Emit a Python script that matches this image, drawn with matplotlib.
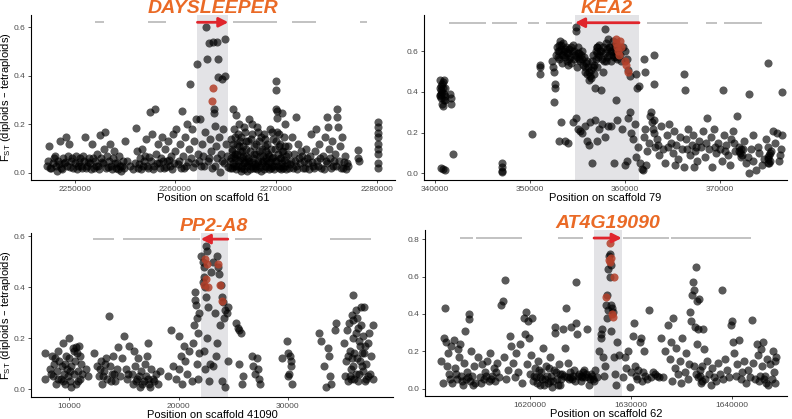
import matplotlib
matplotlib.use("Agg")
import matplotlib.pyplot as plt
import matplotlib.transforms as mtransforms
import numpy as np

plt.rcParams["font.family"] = ["Liberation Sans", "DejaVu Sans"]

# ---- data (positions in kb, Fst values) ----
s61_points = [
    (2247.2, .03), (2247.3, .05), (2247.4, .11), (2247.6, .02), (2247.8, .04), (2248.0, .07),
    (2248.1, .03), (2248.3, .05), (2248.5, .13), (2248.6, .02), (2248.8, .06), (2248.9, .04),
    (2249.1, .15), (2249.2, .03), (2249.3, .07), (2249.4, .12), (2249.6, .05), (2249.8, .02),
    (2250.0, .04), (2250.1, .07), (2250.3, .03), (2250.5, .06), (2250.7, .02), (2250.9, .05),
    (2251.0, .15), (2251.2, .03), (2251.4, .06), (2251.5, .04), (2251.7, .12), (2251.9, .02),
    (2252.0, .05), (2252.2, .08), (2252.3, .03), (2252.5, .155), (2252.6, .06), (2252.8, .04),
    (2252.9, .10), (2253.0, .17), (2253.1, .02), (2253.2, .07), (2253.4, .05), (2253.5, .12),
    (2253.6, .03), (2253.8, .06), (2253.9, .09), (2254.1, .02), (2254.2, .04), (2254.4, .07),
    (2254.5, .03), (2254.6, .01), (2254.8, .05), (2255.0, .13),
    (2256.0, .04), (2256.1, .185), (2256.2, .09), (2256.3, .02), (2256.5, .06), (2256.7, .10),
    (2256.8, .03), (2257.0, .07), (2257.1, .14), (2257.3, .02), (2257.5, .25), (2257.6, .05),
    (2257.7, .16), (2257.9, .03), (2258.0, .265), (2258.1, .08), (2258.3, .12), (2258.4, .04),
    (2258.6, .06), (2258.7, .15), (2258.9, .02), (2259.0, .10), (2259.2, .05), (2259.3, .13),
    (2259.5, .03), (2259.6, .07), (2259.8, .16), (2259.9, .04),
    (2260.0, .09), (2260.1, .18), (2260.3, .05), (2260.4, .12), (2260.5, .02), (2260.6, .255),
    (2260.7, .07), (2260.9, .15), (2261.0, .03), (2261.1, .20), (2261.3, .10), (2261.4, .365),
    (2261.5, .06), (2261.6, .18), (2261.8, .13), (2261.9, .04), (2262.0, .22), (2262.1, .45),
    (2262.2, .08),
    (2262.4, .22), (2262.5, .03), (2262.6, .12), (2262.7, .07), (2262.9, .17), (2263.0, .60),
    (2263.1, .47), (2263.2, .05), (2263.3, .535), (2263.4, .14), (2263.5, .09), (2263.6, .02),
    (2263.7, .537), (2263.8, .265), (2263.8, .245), (2263.9, .195), (2264.0, .11), (2264.1, .54),
    (2264.1, .06), (2264.2, .47), (2264.2, .395), (2264.3, .15), (2264.4, .003), (2264.5, .08),
    (2264.6, .385), (2264.7, .18), (2264.8, .04), (2264.9, .55), (2264.9, .40), (2265.0, .12),
    (2265.1, .07),
    (2265.4, .02), (2265.5, .06), (2265.5, .14), (2265.6, .10), (2265.7, .265), (2265.7, .04),
    (2265.8, .18), (2265.9, .08), (2266.0, .24), (2266.0, .03), (2266.1, .12), (2266.2, .05),
    (2266.3, .20), (2266.4, .09), (2266.5, .02), (2266.5, .15), (2266.6, .06), (2266.7, .11),
    (2266.8, .04), (2266.9, .17), (2267.0, .07), (2267.1, .01), (2267.2, .13), (2267.3, .22),
    (2267.3, .05), (2267.4, .09), (2267.5, .03), (2267.6, .16), (2267.7, .06), (2267.8, .11),
    (2267.9, .02), (2268.0, .08), (2268.1, .19), (2268.2, .04), (2268.3, .13), (2268.4, .07),
    (2268.5, .01), (2268.6, .10), (2268.7, .05), (2268.8, .16), (2268.9, .03), (2269.0, .09),
    (2269.1, .12), (2269.2, .04), (2269.3, .07), (2269.4, .18), (2269.5, .02), (2269.6, .06),
    (2269.7, .14), (2269.8, .03), (2269.9, .10), (2270.0, .38), (2270.0, .34), (2270.0, .265),
    (2270.05, .255), (2270.1, .225), (2270.0, .05), (2270.1, .17), (2270.2, .08), (2270.3, .02),
    (2270.4, .12), (2270.5, .06), (2270.6, .245), (2270.6, .04), (2270.7, .09), (2270.8, .15),
    (2270.9, .03), (2271.0, .07),
    (2271.2, .11), (2271.3, .02), (2271.5, .05), (2271.6, .15), (2271.8, .08), (2272.0, .23),
    (2272.0, .03), (2272.2, .12), (2272.3, .06), (2272.5, .09), (2272.7, .02), (2272.8, .05),
    (2273.0, .10), (2273.2, .04), (2273.4, .07), (2273.5, .16), (2273.7, .03), (2273.9, .09),
    (2274.0, .18), (2274.1, .05), (2274.3, .12), (2274.5, .02), (2274.6, .07), (2274.8, .15),
    (2275.0, .23), (2275.0, .04), (2275.1, .19), (2275.2, .10), (2275.3, .06), (2275.5, .13),
    (2275.6, .03), (2275.8, .08), (2276.0, .265), (2276.0, .23), (2276.1, .19), (2276.2, .05),
    (2276.3, .11), (2276.5, .15), (2276.6, .02), (2276.8, .07), (2277.0, .04),
    (2278.1, .095), (2278.1, .06), (2278.2, .05),
    (2280.1, .21), (2280.1, .19), (2280.1, .165), (2280.1, .15), (2280.1, .10), (2280.1, .08),
    (2280.1, .04), (2280.1, .02), (2280.1, .12),
    # low band
    (2247.5, .02), (2247.9, .06), (2248.2, .01), (2248.4, .035), (2248.7, .015), (2249.0, .045),
    (2249.5, .025), (2249.7, .06), (2250.2, .015), (2250.4, .045), (2250.6, .03), (2250.8, .07),
    (2251.1, .02), (2251.3, .045), (2251.6, .015), (2251.8, .06), (2252.1, .03), (2252.4, .015),
    (2252.7, .045), (2253.3, .025), (2253.7, .015), (2254.0, .04), (2254.3, .015), (2254.7, .03),
    (2254.9, .02), (2255.2, .05), (2255.5, .03), (2255.8, .015), (2256.4, .035), (2256.6, .015),
    (2256.9, .05), (2257.2, .03), (2257.4, .065), (2257.8, .015), (2258.2, .04), (2258.5, .02),
    (2258.8, .05), (2259.1, .025), (2259.4, .055), (2259.7, .015), (2260.2, .035), (2260.8, .02),
    (2261.2, .045), (2261.7, .025), (2262.3, .05), (2262.8, .03), (2263.3, .06), (2263.9, .03),
    (2264.6, .05), (2265.2, .025),
    (2265.45, .05), (2265.6, .02), (2265.65, .09), (2265.75, .12), (2265.85, .03), (2265.95, .06),
    (2266.05, .015), (2266.15, .08), (2266.25, .03), (2266.35, .11), (2266.45, .055), (2266.55, .01),
    (2266.65, .03), (2266.75, .07), (2266.85, .015), (2266.95, .045), (2267.05, .10), (2267.15, .03),
    (2267.25, .06), (2267.35, .015), (2267.45, .14), (2267.55, .045), (2267.65, .02), (2267.75, .08),
    (2267.85, .035), (2267.95, .12), (2268.05, .015), (2268.15, .05), (2268.25, .09), (2268.35, .025),
    (2268.45, .15), (2268.55, .04), (2268.65, .07), (2268.75, .015), (2268.85, .11), (2268.95, .05),
    (2269.05, .025), (2269.15, .08), (2269.25, .015), (2269.35, .045), (2269.45, .10), (2269.55, .03),
    (2269.65, .065), (2269.75, .015), (2269.85, .05), (2269.95, .13), (2270.15, .03), (2270.25, .11),
    (2270.35, .06), (2270.45, .015), (2270.55, .09), (2270.65, .02), (2270.75, .055), (2270.85, .11),
    (2270.95, .015), (2271.05, .04), (2271.15, .08), (2266.2, .16), (2266.8, .19), (2267.6, .20),
    (2268.2, .17), (2268.9, .14), (2269.6, .17), (2267.0, .13), (2265.9, .15), (2266.4, .13),
    (2270.3, .16), (2270.9, .20), (2269.0, .06), (2268.0, .03), (2267.2, .04), (2266.6, .09),
    (2265.8, .07), (2270.5, .03),
    (2271.4, .035), (2271.7, .02), (2271.9, .05), (2272.1, .015), (2272.4, .04), (2272.6, .07),
    (2272.9, .02), (2273.1, .06), (2273.3, .015), (2273.6, .045), (2273.8, .02), (2274.2, .03),
    (2274.4, .06), (2274.7, .015), (2274.9, .05), (2275.4, .02), (2275.7, .05), (2275.9, .03),
    (2276.4, .02), (2276.7, .045), (2276.9, .015), (2277.1, .03),
]
s61_red = [(2263.7, .35), (2263.6, .298)]

s79_points = [
    (340.5, .46), (340.6, .43), (340.7, .40), (340.5, .38), (340.6, .37), (340.8, .45),
    (340.9, .46), (340.7, .34), (340.8, .33), (341.0, .36), (340.6, .41), (340.9, .39),
    (341.0, .42), (340.55, .385), (341.6, .39), (341.7, .37), (341.7, .34), (341.9, .095),
    (340.6, .025), (340.8, .02), (341.0, .018),
    (340.6, .39), (340.7, .44), (340.8, .42), (340.9, .36), (341.0, .38), (340.5, .42),
    (347.1, .05), (347.1, .03), (347.1, .01), (347.1, .005),
    (350.2, .195), (351.0, .53), (351.0, .52), (351.0, .49),
    (352.3, .55), (352.4, .52), (352.5, .50), (352.6, .44), (352.6, .42), (352.5, .35),
    (352.7, .58), (352.8, .62), (352.9, .60), (353.0, .63), (353.1, .56), (353.2, .65),
    (353.3, .61), (353.4, .58), (353.5, .64), (353.6, .60), (353.7, .57), (353.8, .62),
    (353.9, .55), (354.0, .59), (354.1, .61), (354.2, .57), (354.3, .54), (354.4, .60),
    (354.5, .63), (354.6, .56), (354.7, .58), (354.8, .72), (354.8, .70), (354.9, .52),
    (355.0, .59), (355.1, .62), (355.2, .56), (355.3, .55), (355.4, .58), (355.5, .60),
    (355.6, .53), (355.7, .57), (355.8, .50), (355.9, .54), (356.0, .49), (356.1, .52),
    (356.2, .46), (356.3, .48), (356.4, .51), (356.5, .55), (356.6, .58), (356.7, .53),
    (356.8, .42), (356.9, .60), (357.0, .62), (357.1, .59), (357.2, .57), (357.3, .63),
    (357.4, .60), (357.5, .41), (357.6, .56), (357.7, .50), (357.8, .55), (357.9, .71),
    (358.0, .64), (358.1, .61), (358.2, .66), (358.3, .58), (358.4, .62), (358.5, .55),
    (358.6, .60), (358.7, .65), (358.8, .57), (358.9, .63), (359.0, .59), (359.1, .36),
    (359.2, .56), (359.3, .61), (359.5, .58), (359.6, .55), (359.8, .62), (360.0, .60),
    (360.2, .56), (360.3, .51), (360.5, .48), (361.2, .49), (361.3, .42), (361.5, .43),
    (362.0, .56), (362.1, .50), (363.1, .58), (363.1, .44), (366.2, .49), (366.3, .41),
    (370.3, .41), (373.1, .39), (375.0, .54), (376.5, .40),
    (352.9, .57), (353.1, .60), (353.3, .63), (353.5, .58), (353.7, .61), (353.9, .59),
    (354.1, .56), (354.3, .62), (354.6, .60), (354.9, .57), (355.2, .59), (355.5, .56),
    (355.8, .52), (356.0, .55), (356.2, .50), (356.4, .47), (356.6, .52), (356.7, .49),
    (356.9, .56), (357.1, .62), (357.3, .58), (357.5, .60), (357.7, .62), (357.9, .59),
    (358.1, .57), (358.3, .62), (358.5, .60), (358.7, .58), (358.9, .61), (359.1, .57),
    (353.4, .54), (354.0, .53), (357.0, .52), (358.0, .55),
    (353.0, .16), (353.3, .25), (353.7, .16), (354.0, .15), (354.5, .25), (354.8, .27),
    (355.0, .22), (355.3, .21), (355.5, .20), (355.8, .23), (356.0, .16), (356.2, .14),
    (356.3, .25), (356.5, .05), (356.8, .26), (357.0, .16), (357.3, .22), (357.6, .24),
    (357.9, .18), (358.2, .23), (358.5, .23), (358.8, .05), (359.2, .26), (359.7, .22),
    (360.0, .04), (360.2, .06), (360.3, .27), (360.5, .30), (360.6, .20), (360.8, .17),
    (361.0, .24), (361.2, .08), (361.4, .13), (361.6, .05), (361.8, .02), (361.9, .015),
    (362.0, .18), (362.1, .22), (362.3, .11), (362.5, .15), (362.6, .28), (362.7, .30),
    (362.8, .25), (363.0, .20), (363.2, .13), (363.4, .17), (363.6, .09), (363.8, .23),
    (364.0, .12), (364.2, .05), (364.4, .19), (364.6, .24), (364.8, .15), (365.0, .10),
    (365.2, .21), (365.4, .14), (365.6, .07), (365.8, .18), (366.0, .12), (366.2, .03),
    (366.4, .17), (366.6, .22), (366.8, .09), (367.0, .14), (367.2, .19), (367.4, .11),
    (367.6, .06), (367.8, .16), (368.0, .13), (368.2, .21), (368.4, .08), (368.6, .27),
    (368.8, .12), (369.0, .18), (369.2, .03), (369.4, .22), (369.6, .10), (369.8, .15),
    (370.0, .12), (370.2, .06), (370.4, .19), (370.6, .14), (370.8, .09), (371.0, .04),
    (371.2, .17), (371.4, .21), (371.6, .11), (371.8, .28), (372.0, .13), (372.1, .10),
    (372.2, .12), (372.3, .09), (372.5, .16), (372.7, .05), (372.9, .08), (373.1, .002),
    (373.3, .12), (373.5, .19), (373.8, .015), (374.1, .10), (374.4, .04), (374.6, .07),
    (374.8, .17), (375.0, .08), (375.0, .05), (375.1, .13), (375.2, .09), (375.3, .06),
    (375.4, .11), (375.6, .21), (375.8, .15), (376.0, .20), (376.2, .06), (376.4, .12),
    (376.5, .19),
    (372.0, .11), (372.2, .08), (372.4, .12), (375.2, .05), (375.3, .10), (375.1, .07),
    (363.0, .26), (362.9, .22), (363.5, .14), (364.5, .13), (366.5, .12), (367.5, .13),
    (368.5, .15), (369.5, .13), (370.5, .11), (371.5, .15), (373.5, .06), (374.0, .13),
    (376.3, .09), (362.2, .04), (365.3, .04), (367.3, .03),
]
s79_red = [(359.0, .66), (359.1, .64), (359.2, .62), (359.3, .60), (359.4, .58), (359.5, .65),
           (360.0, .55), (360.1, .53), (360.3, .50), (359.6, .62)]

s41090_points = [
    (7.8, .14), (7.8, .04), (8.2, .08), (8.4, .13), (8.5, .05), (8.6, .10), (8.8, .02),
    (8.9, .07), (9.0, .15), (9.1, .11), (9.2, .04), (9.3, .09), (9.4, .18), (9.5, .06),
    (9.6, .02), (9.7, .13), (9.8, .08), (9.9, .05), (10.0, .20), (10.0, .12), (10.1, .03),
    (10.2, .09), (10.3, .16), (10.4, .06), (10.5, .11), (10.6, .02), (10.7, .14), (10.8, .07),
    (10.9, .17), (11.0, .04), (11.1, .10), (11.2, .06), (10.6, .165), (10.2, .01), (11.5, .08),
    (11.7, .05),
    (8.3, .06), (8.7, .12), (9.0, .04), (9.4, .03), (9.6, .10), (10.1, .07), (10.4, .15),
    (10.8, .03), (11.0, .13),
    (12.3, .14), (12.5, .09), (12.7, .05), (12.9, .11), (13.0, .02), (13.2, .07), (13.4, .12),
    (13.5, .04), (13.6, .285), (13.7, .09), (13.9, .06), (14.0, .13), (14.2, .03), (14.4, .08),
    (14.5, .165), (14.6, .05), (14.8, .12),
    (12.8, .08), (13.1, .05), (13.3, .10), (13.8, .03), (14.1, .06),
    (15.0, .21), (15.2, .08), (15.3, .04), (15.5, .17), (15.7, .06), (15.8, .02), (16.0, .09),
    (16.2, .04), (16.3, .12), (16.5, .01), (16.6, .07), (16.8, .03), (17.0, .05), (17.1, .13),
    (17.2, .18), (17.3, .02), (17.5, .08), (17.7, .04), (17.9, .06), (18.1, .02), (18.3, .07),
    (16.9, .10), (15.9, .15),
    (15.4, .06), (16.1, .03), (16.4, .05), (16.7, .02), (17.2, .04), (17.4, .01), (17.8, .03),
    (19.0, .05), (19.3, .23), (19.5, .09), (19.8, .04), (20.0, .08), (20.0, .21), (20.2, .13),
    (20.3, .02), (20.5, .17), (20.6, .11), (20.8, .06), (21.0, .15), (21.2, .03), (21.3, .18),
    (21.4, .25), (21.5, .38), (21.5, .35), (21.6, .33), (21.7, .28), (21.7, .10), (21.8, .22),
    (21.8, .04), (21.9, .14), (21.9, .30),
    (22.1, .52), (22.2, .50), (22.3, .48), (22.2, .42), (22.4, .40), (22.3, .44), (22.5, .56),
    (22.6, .54), (22.5, .36), (22.7, .32), (22.6, .20), (22.3, .15), (22.4, .08), (22.8, .03),
    (23.0, .46), (23.2, .50), (23.3, .30), (23.5, .52), (23.6, .48), (23.7, .45), (23.8, .25),
    (23.9, .41), (24.0, .36), (24.1, .34), (24.2, .28), (23.5, .18), (23.2, .09), (24.0, .03),
    (24.3, .31), (24.4, .30), (24.5, .11), (24.3, .01), (23.4, .13), (22.9, .10), (24.5, .32),
    (25.3, .26), (25.4, .24), (25.5, .23), (25.7, .22), (25.5, .10), (25.8, .02), (25.9, .05),
    (26.7, .13), (26.8, .09), (27.2, .12), (27.3, .08), (27.4, .04), (27.5, .02), (27.0, .06),
    (29.5, .12), (29.9, .19), (30.0, .14), (30.0, .05), (30.1, .06), (30.2, .13), (30.3, .09),
    (30.4, .02), (30.3, .11),
    (32.9, .22), (33.0, .19), (33.3, .09), (33.5, .01), (33.7, .16), (33.8, .13), (33.9, .05),
    (34.0, .02), (34.4, .26), (34.3, .23),
    (35.1, .18), (35.2, .05), (35.3, .11), (35.4, .23), (35.5, .03), (35.6, .26), (35.7, .15),
    (35.8, .08), (35.9, .29), (36.0, .37), (36.0, .20), (36.1, .04), (36.2, .31), (36.3, .12),
    (36.4, .24), (36.5, .06), (36.6, .17), (36.7, .32), (36.8, .09), (36.9, .21), (37.0, .14),
    (37.1, .03), (37.2, .10), (37.3, .18), (37.4, .22), (37.5, .06), (37.6, .13), (37.8, .25),
    (37.8, .04), (37.0, .32), (36.3, .28), (35.8, .04), (36.1, .14), (36.5, .19), (36.9, .07),
    (37.3, .05),
    (35.5, .13), (35.7, .05), (36.0, .27), (36.2, .06), (36.4, .03), (36.6, .11), (36.8, .14),
    (37.1, .17), (37.2, .04), (36.0, .09), (35.9, .12), (36.7, .25), (36.2, .22),
]
s41090_red = [(22.4, .51), (22.6, .49), (22.5, .43), (22.3, .41), (23.6, .49), (23.8, .41),
              (24.0, .345), (22.7, .40)]

s62_points = [
    (1611.2, .15), (1611.4, .03), (1611.5, .27), (1611.6, .43), (1611.7, .25), (1611.8, .12),
    (1611.9, .19), (1612.0, .08), (1612.2, .23), (1612.3, .03), (1612.5, .26), (1612.6, .11),
    (1612.8, .05), (1612.9, .21), (1613.0, .17), (1613.1, .24), (1613.2, .07), (1613.4, .02),
    (1613.5, .14), (1613.6, .31), (1613.7, .05), (1613.8, .09), (1614.0, .40), (1614.0, .375),
    (1614.1, .04), (1614.2, .20), (1614.3, .07), (1614.5, .12), (1614.6, .03), (1614.8, .17),
    (1615.0, .06), (1615.2, .13), (1615.4, .05), (1615.5, .09), (1615.7, .15), (1615.9, .04),
    (1616.0, .19), (1616.2, .07), (1616.4, .11), (1616.5, .04), (1616.7, .14), (1616.9, .06),
    (1617.1, .45), (1617.3, .47), (1617.5, .58), (1617.4, .17), (1617.6, .05), (1617.8, .10),
    (1618.0, .28), (1618.1, .23), (1618.3, .14), (1618.5, .06), (1618.6, .19), (1618.8, .09),
    (1619.0, .24), (1619.2, .03), (1619.4, .38), (1619.5, .29), (1619.6, .41), (1619.7, .13),
    (1619.8, .36), (1619.9, .27), (1620.0, .08), (1620.1, .18), (1620.2, .38), (1620.3, .04),
    (1620.5, .11), (1620.6, .06), (1620.8, .15), (1621.0, .02), (1621.1, .09), (1621.3, .22),
    (1621.5, .05), (1621.6, .12), (1621.8, .03), (1622.0, .17), (1622.1, .07), (1622.2, .01),
    (1622.4, .10), (1622.5, .33), (1622.5, .30), (1622.7, .05), (1622.9, .13), (1623.0, .02),
    (1623.2, .08), (1623.3, .32), (1623.5, .22), (1623.6, .43), (1623.7, .06), (1623.8, .14),
    (1624.0, .09), (1624.1, .33), (1624.2, .05), (1624.4, .10), (1624.6, .57), (1624.6, .35),
    (1624.7, .29), (1624.8, .07), (1625.0, .04), (1625.2, .09), (1625.4, .06), (1625.6, .32),
    (1625.8, .02), (1626.0, .08), (1626.2, .05), (1626.4, .10), (1626.6, .06), (1626.8, .20),
    (1620.4, .07), (1620.7, .03), (1620.9, .10), (1621.2, .05), (1621.4, .02), (1621.7, .07),
    (1621.9, .11), (1622.3, .04), (1622.6, .09), (1622.8, .02), (1623.1, .05), (1623.4, .07),
    (1623.9, .05), (1624.3, .07), (1624.5, .04), (1624.9, .08), (1625.1, .06), (1625.3, .10),
    (1625.5, .08), (1625.7, .06), (1625.9, .05), (1626.1, .07), (1626.3, .04), (1621.0, .06),
    (1622.0, .04), (1623.0, .08), (1624.0, .06), (1625.0, .07), (1612.1, .05), (1612.7, .08),
    (1613.3, .04), (1613.9, .06), (1614.4, .02), (1615.1, .03), (1615.6, .07), (1616.1, .05),
    (1616.6, .09),
    (1627.0, .27), (1627.0, .29), (1627.1, .32), (1627.2, .17), (1627.3, .07), (1627.5, .45),
    (1627.6, .50), (1627.6, .38), (1627.7, .42), (1627.7, .64), (1627.8, .71), (1627.9, .72),
    (1627.9, .60), (1628.0, .66), (1628.0, .31), (1628.1, .43), (1628.2, .41), (1628.3, .17),
    (1628.4, .08), (1628.6, .25), (1628.8, .18), (1628.5, .02), (1627.4, .12), (1628.0, .45),
    (1629.2, .06), (1629.4, .17), (1629.5, .11), (1629.7, .20), (1629.9, .01), (1630.0, .09),
    (1630.2, .28), (1630.3, .35), (1630.4, .12), (1630.6, .05), (1630.7, .10), (1630.9, .25),
    (1631.0, .27), (1631.1, .04), (1631.3, .20), (1631.4, .07), (1631.6, .05), (1631.8, .42),
    (1632.0, .06), (1632.2, .09), (1632.4, .08), (1632.6, .07), (1633.0, .27), (1633.2, .06),
    (1633.4, .20), (1633.7, .34), (1633.9, .16), (1634.0, .25), (1634.1, .04), (1634.2, .38),
    (1634.4, .11), (1634.5, .22), (1634.7, .08), (1634.9, .15), (1635.0, .03), (1635.1, .27),
    (1635.3, .09), (1635.4, .19), (1635.6, .05), (1635.7, .13), (1635.8, .41), (1635.9, .36),
    (1636.0, .50), (1636.1, .57), (1636.2, .53), (1636.3, .33), (1636.4, .65), (1636.5, .47),
    (1636.5, .24), (1636.6, .32), (1636.7, .48), (1636.8, .07), (1636.9, .03), (1637.0, .12),
    (1637.1, .32), (1637.2, .21), (1637.3, .05), (1637.5, .15), (1637.7, .08), (1637.9, .02),
    (1638.0, .11), (1638.2, .06), (1638.4, .04), (1638.6, .14), (1638.8, .08), (1639.0, .53),
    (1639.1, .05), (1639.3, .16), (1639.5, .10), (1639.7, .06), (1639.9, .34), (1640.0, .36),
    (1640.1, .25), (1640.2, .19), (1640.4, .07), (1640.5, .13), (1640.7, .26), (1640.9, .05),
    (1641.0, .09), (1641.2, .15), (1641.4, .03), (1641.6, .10), (1641.8, .06), (1642.0, .37),
    (1642.1, .14), (1642.3, .05), (1642.5, .24), (1642.6, .18), (1642.7, .04), (1642.9, .21),
    (1643.0, .12), (1643.1, .25), (1643.3, .07), (1643.5, .16), (1643.6, .02), (1643.8, .13),
    (1644.0, .05), (1644.1, .20), (1644.2, .09), (1644.3, .15), (1644.3, .03), (1644.4, .17),
    (1636.6, .06), (1636.8, .10), (1637.0, .04), (1636.4, .08), (1636.2, .12), (1643.2, .05),
    (1643.4, .03), (1642.8, .07), (1630.5, .07), (1631.2, .09), (1632.8, .06),
]
s62_red = [(1627.9, .78), (1627.8, .69), (1627.9, .68), (1628.0, .70), (1628.3, .60),
           (1627.5, .49), (1628.1, .40), (1628.2, .385)]

# gene of interest: (name, start kb, end kb, strand)
s61_gene = ("DAYSLEEPER", 2262.18, 2265.25, "+")
s79_gene = ("KEA2", 354.74, 361.47, "-")
s41090_gene = ("PP2-A8", 22.04, 24.51, "-")
s62_gene = ("AT4G19090", 1626.34, 1629.08, "+")

# other annotated genes (start kb, end kb)
s61_others = [(2251.98, 2252.87), (2257.23, 2259.01), (2265.74, 2270.10),
              (2271.58, 2273.96), (2278.31, 2279.01)]
s79_others = [(341.47, 345.37), (346.0, 348.63), (349.79, 350.95), (351.69, 354.43),
              (362.32, 366.64), (368.53, 369.69), (370.43, 374.43)]
s41090_others = [(12.2, 14.12), (14.94, 21.99), (25.19, 27.66), (33.88, 37.63)]
s62_others = [(1613.07, 1614.36), (1614.65, 1619.21), (1622.77, 1625.25),
              (1629.21, 1633.76), (1633.96, 1641.88)]

W, H = 792, 419
DOT = "#000000"
RED = "#B3402A"
ORANGE = "#EA6A26"
ARROW = "#E0252C"


def draw_panel(rect, points, red, gene, others, xlim, ylim, xticks, yticks,
               gene_y, scaffold, ylabel):
    ax = fig.add_axes([rect[0] / W, 1 - rect[3] / H, (rect[2] - rect[0]) / W,
                       (rect[3] - rect[1]) / H])
    name, start, end, strand = gene
    ax.axvspan(start * 1000, end * 1000, color="#E3E3E6", lw=0, zorder=0)

    pts = np.array(points)
    ax.scatter(pts[:, 0] * 1000, pts[:, 1], s=34, color=DOT, alpha=0.65,
               lw=0, zorder=2)
    r = np.array(red)
    ax.scatter(r[:, 0] * 1000, r[:, 1], s=34, color=RED, alpha=0.85,
               lw=0, zorder=3)

    for a, b in others:
        ax.plot([a * 1000, b * 1000], [gene_y, gene_y], color="#BDBDBD",
                lw=1.3, solid_capstyle="butt", zorder=1)
    x0, x1 = (start, end) if strand == "+" else (end, start)
    ax.annotate("", xy=(x1 * 1000, gene_y), xytext=(x0 * 1000, gene_y),
                arrowprops=dict(arrowstyle="-|>,head_length=0.55,head_width=0.28",
                                color=ARROW, lw=2.0, shrinkA=0, shrinkB=0),
                zorder=4)
    trans = mtransforms.blended_transform_factory(ax.transData, ax.transAxes)
    ax.text((start + end) / 2 * 1000, 1.04, name, transform=trans, ha="center",
            va="center", fontsize=14, fontweight="bold", fontstyle="italic",
            color=ORANGE, clip_on=False, zorder=5)

    ax.set_xlim(xlim[0] * 1000, xlim[1] * 1000)
    ax.set_ylim(*ylim)
    ax.set_xticks(xticks)
    ax.set_xticklabels([str(t) for t in xticks])
    ax.set_yticks(yticks)
    ax.set_yticklabels([f"{t:.1f}" for t in yticks])
    for side in ("top", "right"):
        ax.spines[side].set_visible(False)
    for side in ("left", "bottom"):
        ax.spines[side].set_linewidth(0.8)
    ax.tick_params(length=2.5, width=0.6, color="#333333", labelsize=6,
                   labelcolor="#4D4D4D", pad=1.5)
    ax.set_xlabel(f"Position on scaffold {scaffold}", fontsize=8, labelpad=0)
    if ylabel:
        ax.set_ylabel(r"F$_{\mathregular{ST}}$ (diploids – tetraploids)",
                      fontsize=8, labelpad=0.5)
    return ax


fig = plt.figure(figsize=(W / 100, H / 100), dpi=100)

draw_panel((31, 15, 395, 180), s61_points, s61_red, s61_gene, s61_others,
           (2245.65, 2281.8), (-0.029, 0.65),
           [2250000, 2260000, 2270000, 2280000], [0.0, 0.2, 0.4, 0.6],
           0.62, "61", True)
draw_panel((424, 15, 787, 180), s79_points, s79_red, s79_gene, s79_others,
           (338.84, 377.05), (-0.033, 0.778),
           [340000, 350000, 360000, 370000], [0.0, 0.2, 0.4, 0.6],
           0.74, "79", False)
draw_panel((31, 233, 393, 397), s41090_points, s41090_red, s41090_gene,
           s41090_others, (6.5, 39.63), (-0.031, 0.612),
           [10000, 20000, 30000], [0.0, 0.2, 0.4, 0.6],
           0.588, "41090", True)
draw_panel((425, 230, 787, 396), s62_points, s62_red, s62_gene, s62_others,
           (1609.6, 1645.45), (-0.039, 0.849),
           [1620000, 1630000, 1640000], [0.0, 0.2, 0.4, 0.6, 0.8],
           0.806, "62", False)

fig.savefig("out.png", dpi=100)
